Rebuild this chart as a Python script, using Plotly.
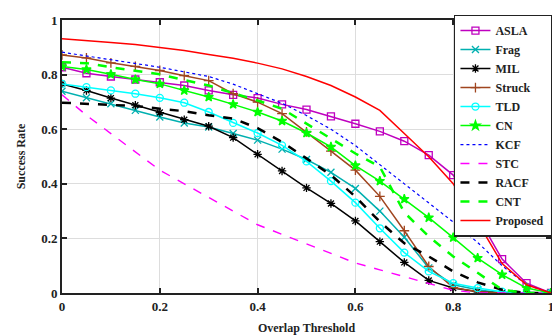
import plotly.graph_objects as go

thresholds = [round(i * 0.05, 2) for i in range(21)]

asla = [0.827, 0.805, 0.793, 0.782, 0.772, 0.760, 0.742, 0.726, 0.714, 0.691, 0.672,
        0.647, 0.620, 0.592, 0.556, 0.505, 0.432, 0.28, 0.124, 0.036, 0.0]
frag = [0.739, 0.715, 0.693, 0.669, 0.645, 0.623, 0.608, 0.584, 0.560, 0.527, 0.489,
        0.442, 0.383, 0.300, 0.204, 0.092, 0.030, 0.012, 0.0, 0.0, 0.0]
mil = [0.766, 0.742, 0.714, 0.688, 0.661, 0.635, 0.611, 0.569, 0.508, 0.447, 0.385,
       0.328, 0.264, 0.188, 0.112, 0.046, 0.018, 0.005, 0.0, 0.0, 0.0]
struck = [0.872, 0.861, 0.843, 0.830, 0.815, 0.796, 0.778, 0.730, 0.699, 0.657, 0.590,
          0.520, 0.450, 0.354, 0.228, 0.097, 0.020, 0.005, 0.0, 0.0, 0.0]
tld = [0.766, 0.754, 0.742, 0.730, 0.715, 0.697, 0.663, 0.623, 0.586, 0.541, 0.482,
       0.410, 0.331, 0.237, 0.148, 0.079, 0.036, 0.018, 0.005, 0.0, 0.0]
cn = [0.830, 0.819, 0.801, 0.782, 0.766, 0.742, 0.718, 0.691, 0.663, 0.630, 0.586,
      0.535, 0.467, 0.410, 0.344, 0.276, 0.203, 0.128, 0.067, 0.018, 0.0]
kcf = [0.882, 0.868, 0.854, 0.840, 0.827, 0.810, 0.793, 0.765, 0.730, 0.695, 0.650,
       0.600, 0.540, 0.470, 0.400, 0.330, 0.260, 0.185, 0.100, 0.030, 0.0]
stc = [0.726, 0.651, 0.584, 0.517, 0.450, 0.400, 0.350, 0.300, 0.250, 0.215, 0.180,
       0.145, 0.110, 0.085, 0.060, 0.035, 0.010, 0.0, 0.0, 0.0, 0.0]
racf = [0.697, 0.693, 0.690, 0.685, 0.675, 0.666, 0.651, 0.639, 0.604, 0.553, 0.493,
        0.432, 0.353, 0.261, 0.182, 0.134, 0.079, 0.039, 0.012, 0.0, 0.0]
cnt = [0.845, 0.842, 0.827, 0.815, 0.801, 0.780, 0.760, 0.732, 0.705, 0.675, 0.620,
       0.565, 0.511, 0.462, 0.295, 0.207, 0.134, 0.074, 0.012, 0.0, 0.0]
proposed = [0.931, 0.925, 0.918, 0.910, 0.900, 0.888, 0.874, 0.860, 0.842, 0.821, 0.793,
            0.760, 0.718, 0.669, 0.584, 0.499, 0.400, 0.260, 0.108, 0.030, 0.0]

x_ticks = [0, 0.2, 0.4, 0.6, 0.8, 1]
x_ticklabels = ["0", "0.2", "0.4", "0.6", "0.8", "1"]
y_ticks = [0, 0.2, 0.4, 0.6, 0.8, 1]
y_ticklabels = ["0", "0.2", "0.4", "0.6", "0.8", "1"]

series = [
    ("ASLA", asla, "#bf00bf", "solid", 1.5, "square-open"),
    ("Frag", frag, "#00b0b0", "solid", 1.5, "x-thin-open"),
    ("MIL", mil, "#000000", "solid", 1.5, "asterisk-open"),
    ("Struck", struck, "#a0451f", "solid", 1.5, "cross-thin-open"),
    ("TLD", tld, "#00ffff", "solid", 1.5, "circle-open"),
    ("CN", cn, "#00ff00", "solid", 1.5, "star"),
    ("KCF", kcf, "#0000ff", "dot", 1.2, None),
    ("STC", stc, "#ff00ff", "dash", 1.4, None),
    ("RACF", racf, "#000000", "dash", 2.5, None),
    ("CNT", cnt, "#00ff00", "dash", 2.5, None),
    ("Proposed", proposed, "#ff0000", "solid", 1.5, None),
]

fig = go.Figure()
for name, vals, color, dash, width, symbol in series:
    if symbol:
        mode = "lines+markers"
        marker = dict(symbol=symbol, size=7, color=color,
                      line=dict(color=color, width=1.3))
    else:
        mode = "lines"
        marker = None
    label = name + ("\u00a0" if name == "Proposed" else "")
    fig.add_trace(go.Scatter(
        x=thresholds, y=vals, name=label, mode=mode,
        line=dict(color=color, dash=dash, width=width),
        marker=marker,
    ))

font_family = "Liberation Serif, Times New Roman, serif"

# page body has an 8px default margin, so the figure is sized to fit the window
fig.update_layout(
    width=552, height=328,
    margin=dict(l=54, r=7, t=11, b=43),
    paper_bgcolor="white", plot_bgcolor="white",
    font=dict(family=font_family, color="#222222", size=13),
    legend=dict(
        x=1.004, y=1.02, xanchor="right", yanchor="top",
        bgcolor="white", bordercolor="#222222", borderwidth=1.5,
        font=dict(family=font_family, size=12, color="#222222", weight="bold"),
        itemwidth=30, tracegroupgap=0, maxheight=320,
    ),
)
fig.update_xaxes(
    range=[0, 1], tickvals=x_ticks, ticktext=x_ticklabels,
    showgrid=True, gridcolor="#dddddd", gridwidth=1,
    showline=True, linecolor="#222222", linewidth=2, mirror="ticks",
    ticks="inside", ticklen=5, tickcolor="#222222", tickwidth=1.5,
    tickfont=dict(family=font_family, size=13, weight="bold"),
    title=dict(text="Overlap Threshold", standoff=11,
               font=dict(family=font_family, size=12, weight="bold")),
    zeroline=False, automargin=False,
)
fig.update_yaxes(
    range=[0, 1], tickvals=y_ticks, ticktext=y_ticklabels,
    showgrid=True, gridcolor="#dddddd", gridwidth=1,
    showline=True, linecolor="#222222", linewidth=2, mirror="ticks",
    ticks="inside", ticklen=5, tickcolor="#222222", tickwidth=1.5,
    tickfont=dict(family=font_family, size=13, weight="bold"),
    title=dict(text="Success Rate", standoff=13,
               font=dict(family=font_family, size=12, weight="bold")),
    zeroline=False, automargin=False,
)

fig.write_html("out.html")
